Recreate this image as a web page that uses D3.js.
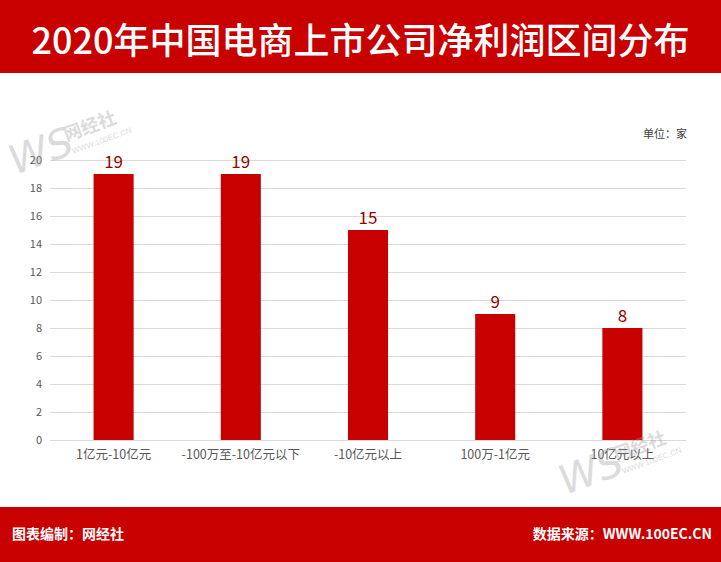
<!DOCTYPE html>
<html><head><meta charset="utf-8">
<script src="https://cdn.jsdelivr.net/npm/d3@7"></script>
<style>body{margin:0;background:#fff}svg{display:block}</style>
</head><body>
<script>
const title = "2020年中国电商上市公司净利润区间分布";
const categories = ["1亿元-10亿元","-100万至-10亿元以下","-10亿元以上","100万-1亿元","10亿元以上"];
const values = [19,19,15,9,8];
const yTicks = [0,2,4,6,8,10,12,14,16,18,20];
const unitLabel = "单位：家";
const footerLeft = "图表编制：网经社";
const footerRight = "数据来源：WWW.100EC.CN";

const W = 721, H = 562;
const red = "#c90000";
const font = "'Noto Sans CJK SC','Microsoft YaHei',sans-serif";
const svg = d3.select("body").append("svg").attr("width",W).attr("height",H);
svg.append("rect").attr("width",W).attr("height",H).attr("fill","#fff");

// header
svg.append("rect").attr("x",0).attr("y",0).attr("width",W).attr("height",73).attr("fill",red);
svg.append("text").attr("x",W/2).attr("y",38).attr("text-anchor","middle").attr("dominant-baseline","central")
  .attr("fill","#fff").attr("font-family",font).attr("font-weight",500).attr("font-size",36).text(title);

// footer
svg.append("rect").attr("x",0).attr("y",507).attr("width",W).attr("height",H-507).attr("fill",red);
svg.append("text").attr("x",12).attr("y",533).attr("dominant-baseline","central").attr("fill","#fff")
  .attr("font-family",font).attr("font-weight","bold").attr("font-size",14).text(footerLeft);
svg.append("text").attr("x",712).attr("y",533).attr("text-anchor","end").attr("dominant-baseline","central").attr("fill","#fff")
  .attr("font-family",font).attr("font-weight","bold").attr("font-size",14).text(footerRight);

// scales
const x = d3.scaleBand().domain(categories).range([50,686]).paddingInner(0.685).paddingOuter(0.3425);
const y = d3.scaleLinear().domain([0,20]).range([440,160]);

// grid
const g = svg.append("g");
g.selectAll("line.grid").data(yTicks).join("line").attr("class","grid")
  .attr("x1",50).attr("x2",686).attr("y1",d=>y(d)).attr("y2",d=>y(d))
  .attr("stroke","#d9d9d9").attr("stroke-width",1).attr("shape-rendering","crispEdges");

const yAxis = svg.append("g").attr("transform","translate(50,0)")
  .call(d3.axisLeft(y).tickValues(yTicks).tickSize(0).tickPadding(8));
yAxis.select(".domain").remove();
yAxis.selectAll("text").attr("fill","#595959").attr("font-family",font).attr("font-size",11);

// bars
svg.selectAll("rect.bar").data(values).join("rect").attr("class","bar")
  .attr("x",(d,i)=>x(categories[i])).attr("width",x.bandwidth())
  .attr("y",d=>y(d)).attr("height",d=>y(0)-y(d)).attr("fill",red);

svg.selectAll("text.val").data(values).join("text").attr("class","val")
  .attr("x",(d,i)=>x(categories[i])+x.bandwidth()/2).attr("y",d=>y(d)-6)
  .attr("text-anchor","middle").attr("fill","#9a0000").attr("font-family",font).attr("font-size",17).text(d=>d);

const xAxis = svg.append("g").attr("transform","translate(0,440)")
  .call(d3.axisBottom(x).tickSize(0).tickPadding(10));
xAxis.select(".domain").attr("stroke","#d9d9d9");
xAxis.selectAll("text").attr("fill","#595959").attr("font-family",font).attr("font-size",12.5);

svg.append("text").attr("x",687).attr("y",133).attr("text-anchor","end").attr("dominant-baseline","central")
  .attr("fill","#404040").attr("font-family",font).attr("font-size",11).text(unitLabel);

// watermarks
function wm(tx,ty){
  const w = svg.append("g").attr("transform",`translate(${tx},${ty}) rotate(-20)`).attr("opacity",0.35);
  w.append("text").attr("x",0).attr("y",0).attr("fill","#999").attr("font-family","'DejaVu Sans',sans-serif")
    .attr("font-style","italic").attr("font-size",40).text("WS");
  w.append("text").attr("x",60).attr("y",-14).attr("fill","#999").attr("font-family",font).attr("font-weight","bold")
    .attr("font-size",18).text("网经社");
  w.append("text").attr("x",62).attr("y",0).attr("fill","#999").attr("font-family","sans-serif").attr("font-size",8).text("WWW.100EC.CN");
}
wm(15,175);
wm(565,495);
</script>
</body></html>
